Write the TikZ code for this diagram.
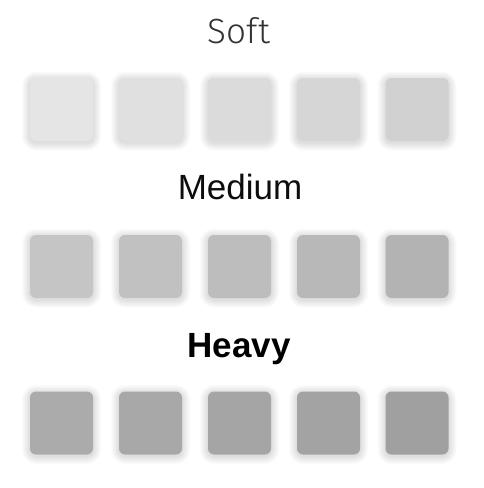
\documentclass[tikz,border=0pt]{standalone}
\usepackage{fontspec}
\setmainfont{Liberation Sans}
\newfontfamily\softfont{Fira Sans Light}

\tikzset{
  tile/.style={rectangle,rounded corners=6pt,minimum size=63pt,inner sep=0pt},
  halo/.style={black,opacity=0.016},
  title/.style={anchor=base,inner sep=0pt,font=\fontsize{35}{40}\selectfont}
}
% soft shadow, then the tile on top
\newcommand\graytile[4]{%
  \foreach \r in {1,...,8}{
    \fill[halo,rounded corners=6pt+\r pt] (#2-31.5-\r,#3-31.5-\r-1.5) rectangle (#2+31.5+\r,#3+31.5+\r-1.5);
  }
  \definecolor{tc}{RGB}{#4,#4,#4}
  \node[tile,fill=tc] (#1) at (#2,#3) {};
}

\begin{document}
\begin{tikzpicture}[x=1pt,y=1pt]
\useasboundingbox[fill=white] (0,-488) rectangle (484,0);

% labels
\node[title,text=black!80] (soft) at (239,-43) {\softfont Soft};
\node[title,text=black!95] (medium) at (240,-199) {Medium};
\node[title,text=black] (heavy) at (239,-357) {\bfseries Heavy};

% tiles, light to dark
\foreach \i/\x/\g in {1/61.5/229,2/150.5/224,3/239.5/219,4/328.5/214,5/417/209}
  {\graytile{s\i}{\x}{-109.5}{\g}}
\foreach \i/\x/\g in {1/61.5/197,2/150.5/193,3/239.5/189,4/328.5/184,5/417/179}
  {\graytile{m\i}{\x}{-266.5}{\g}}
\foreach \i/\x/\g in {1/61.5/171,2/150.5/168,3/239.5/165,4/328.5/163,5/417/160}
  {\graytile{h\i}{\x}{-423}{\g}}
\end{tikzpicture}
\end{document}
